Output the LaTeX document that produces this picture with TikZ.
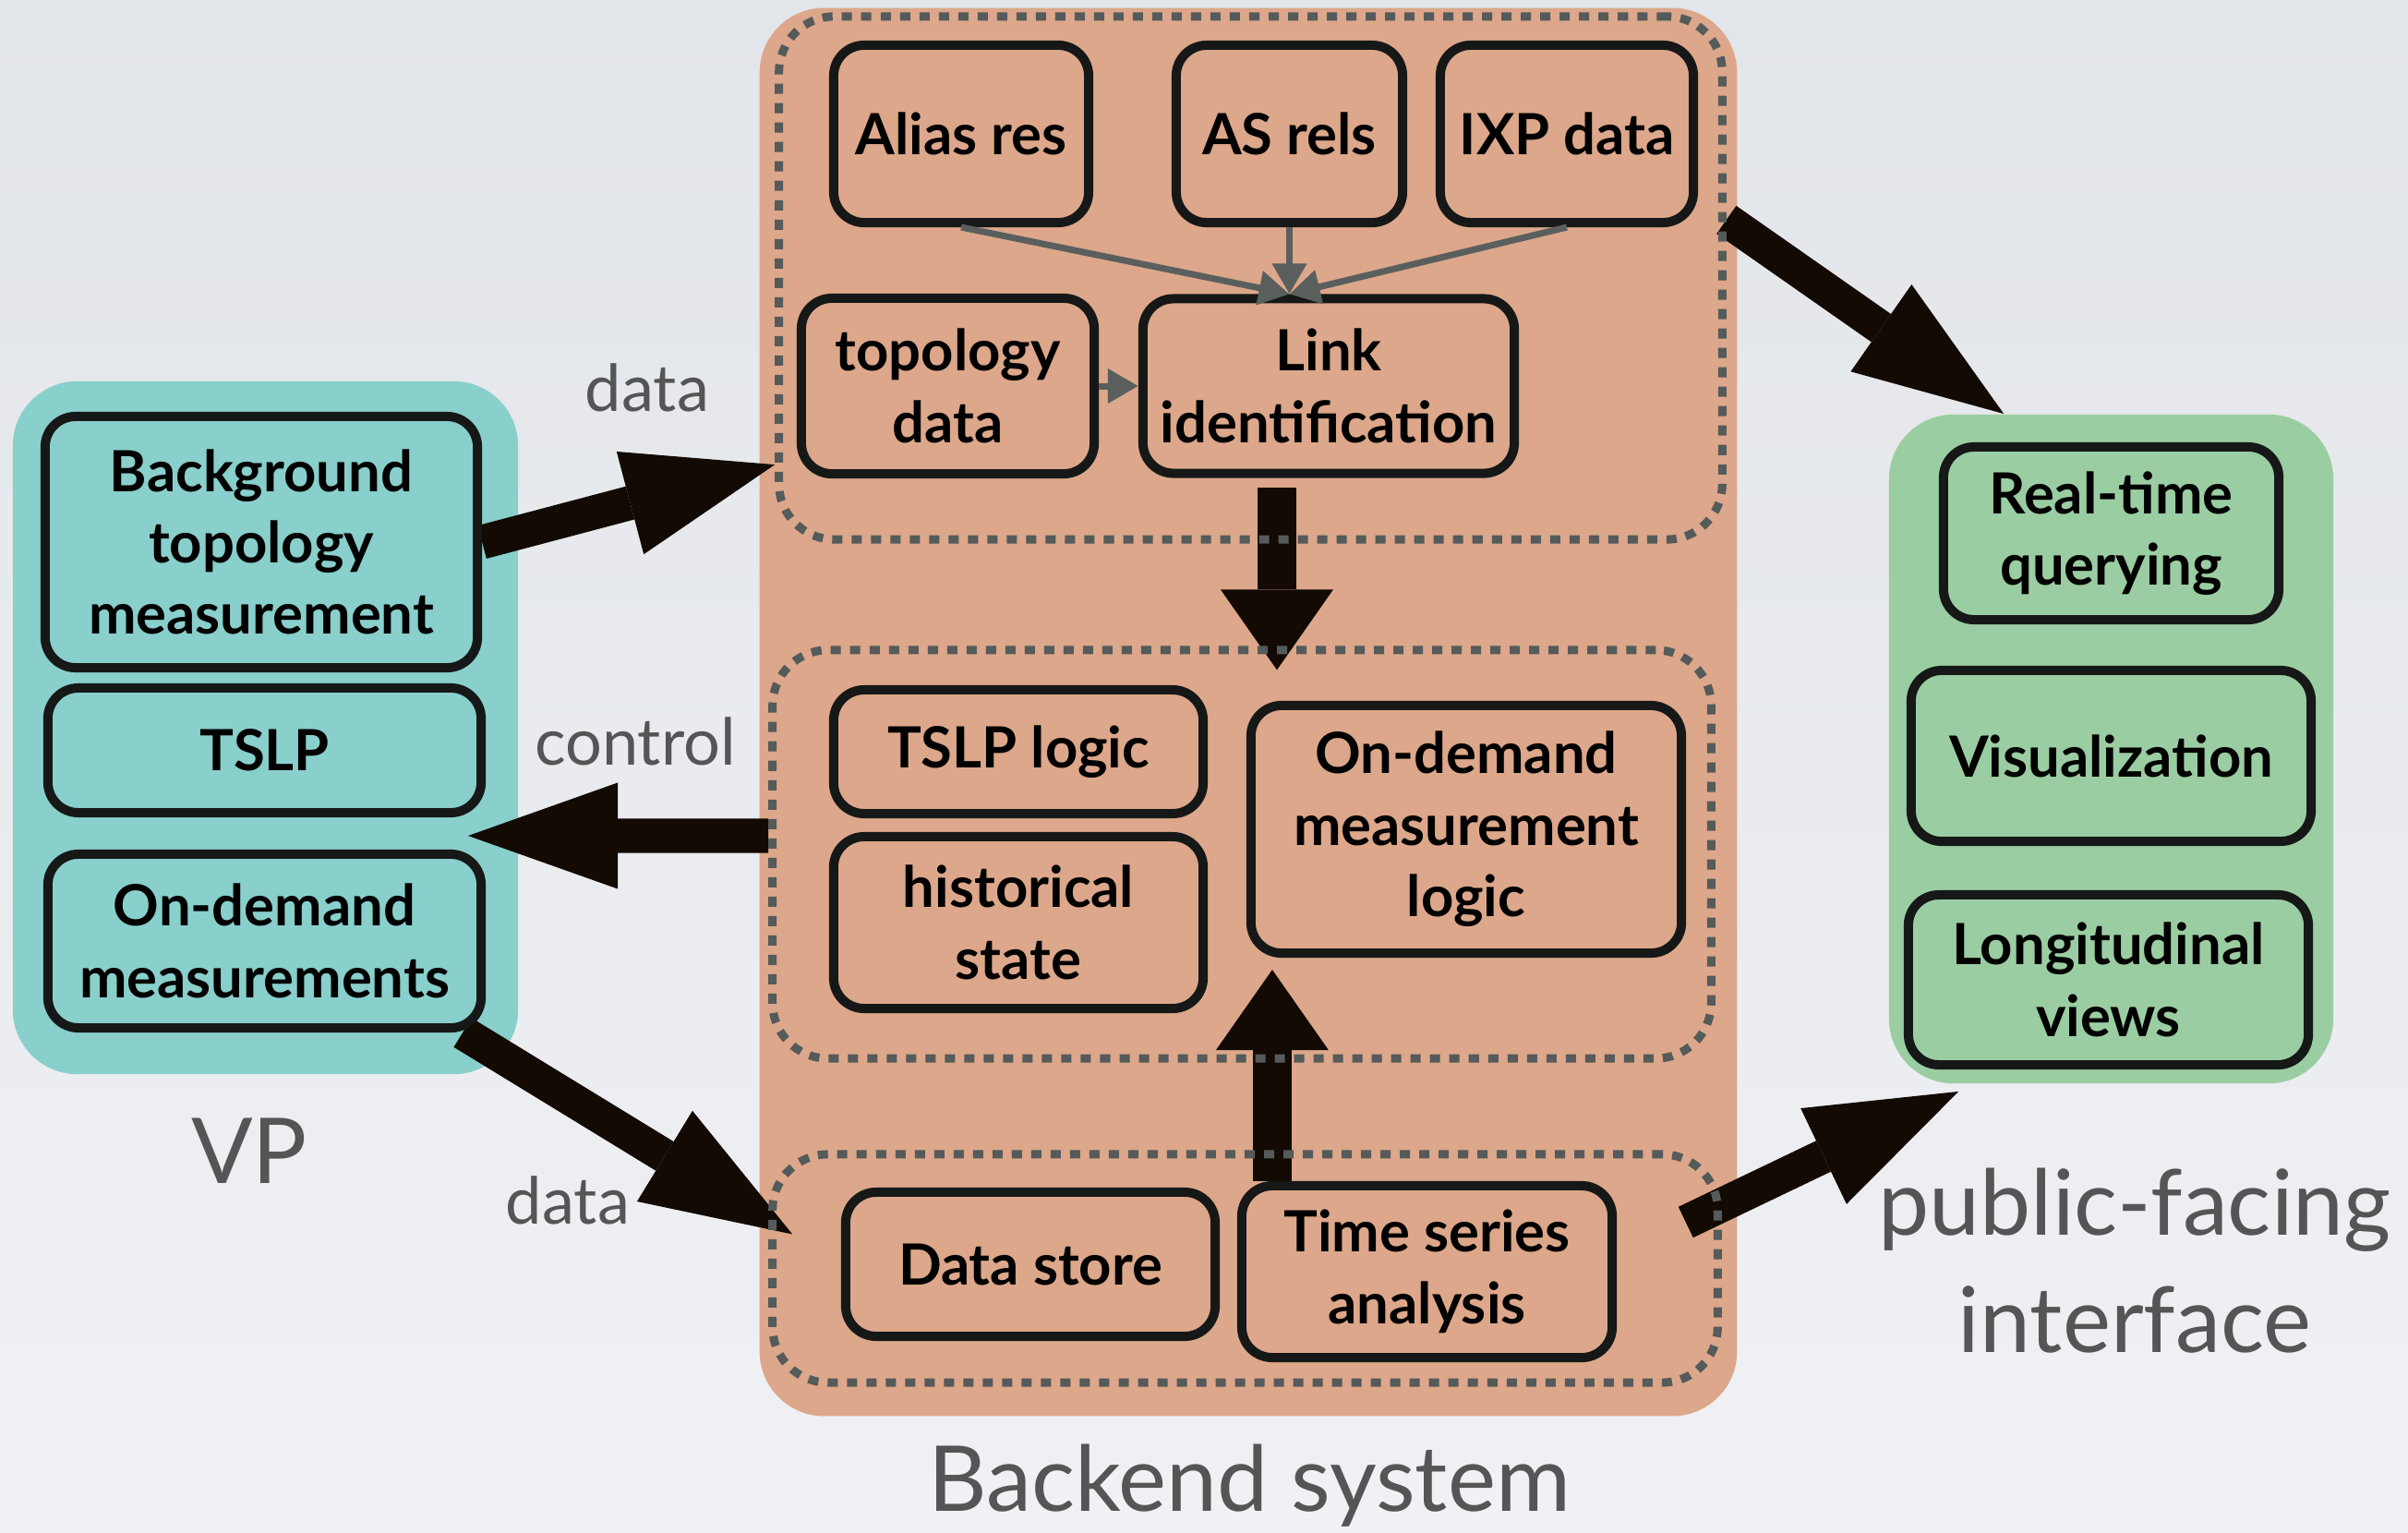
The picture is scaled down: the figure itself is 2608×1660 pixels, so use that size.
\documentclass[tikz,border=0pt]{standalone}
\usepackage{fontspec}
\setmainfont{Lato}
\usetikzlibrary{arrows.meta}

\definecolor{bgtop}{RGB}{226,229,233}
\definecolor{bgbot}{RGB}{240,241,244}
\definecolor{backend}{RGB}{220,167,138}
\definecolor{vpteal}{RGB}{137,207,204}
\definecolor{pubgreen}{RGB}{155,205,162}
\definecolor{boxline}{RGB}{22,24,24}
\definecolor{dotgray}{RGB}{85,90,90}
\definecolor{feedgray}{RGB}{90,95,94}
\definecolor{arrblack}{RGB}{18,10,3}
\definecolor{lblgray}{RGB}{85,85,85}

\pgfdeclarelayer{back}
\pgfdeclarelayer{mid}
\pgfsetlayers{back,mid,main}

\begin{document}
\begin{tikzpicture}[x=0.01cm, y=-0.01cm,
  panel/.style={rounded corners=0.7cm, inner sep=0pt},
  grp/.style={draw=dotgray, line width=0.09cm, dash pattern=on 0.11cm off 0.1cm, rounded corners=0.6cm, inner sep=0pt},
  box/.style={draw=boxline, line width=0.1cm, rounded corners=0.33cm, align=center, inner sep=0pt,
    font=\fontsize{17.5}{22}\bfseries\selectfont},
  feed/.style={draw=feedgray, line width=0.07cm, -{Triangle[length=0.33cm, width=0.36cm]}},
  fat/.style={draw=arrblack, line width=0.37cm, -{Triangle[length=1.62cm, width=1.15cm, line width=0pt]}},
  stub/.style={draw=arrblack, line width=0.42cm, -{Triangle[length=0.87cm, width=1.22cm, line width=0pt]}},
  lbl/.style={text=lblgray, anchor=base, font=\fontsize{20}{24}\selectfont},
  big/.style={text=lblgray, anchor=base, align=center, font=\fontsize{28}{36}\selectfont}]

\useasboundingbox (0,0) rectangle (2608,1660);

\begin{pgfonlayer}{back}
\fill[top color=bgtop, bottom color=bgbot] (0,0) rectangle (2608,1660);
\node[panel, fill=backend, minimum width=10.58cm, minimum height=15.24cm] (backsys) at (1352,771) {};
\node[panel, fill=vpteal, minimum width=5.47cm, minimum height=7.50cm] (vp) at (287.5,788) {};
\node[panel, fill=pubgreen, minimum width=4.81cm, minimum height=7.24cm] (pub) at (2286.5,811) {};
\end{pgfonlayer}

% backend groups
\node[grp, minimum width=10.21cm, minimum height=5.66cm] (topgrp) at (1354.5,301) {};
\node[grp, minimum width=10.16cm, minimum height=4.42cm] (midgrp) at (1345,925) {};
\node[grp, minimum width=10.23cm, minimum height=2.47cm] (botgrp) at (1348.5,1373.5) {};

\node[box, minimum width=2.76cm, minimum height=1.92cm] (alias) at (1041,145) {Alias res};
\node[box, minimum width=2.45cm, minimum height=1.92cm] (as) at (1396.5,145) {AS rels};
\node[box, minimum width=2.74cm, minimum height=1.92cm] (ixp) at (1697,145) {IXP data};
\node[box, minimum width=3.17cm, minimum height=1.90cm] (topo) at (1026.5,418) {topology\\data};
\node[box, minimum width=4.02cm, minimum height=1.89cm] (link) at (1439,418) {Link\\identification};

\node[box, minimum width=4.00cm, minimum height=1.34cm] (tslplogic) at (1103,814) {TSLP logic};
\node[box, minimum width=4.00cm, minimum height=1.86cm] (hist) at (1103,999) {historical\\state};
\node[box, minimum width=4.66cm, minimum height=2.68cm] (odl) at (1588,898) {On-demand\\measurement\\logic};

\node[box, minimum width=4.00cm, minimum height=1.56cm] (store) at (1116,1369) {Data store};
\node[box, minimum width=4.01cm, minimum height=1.86cm] (tsa) at (1545.5,1377) {Time series\\analysis};

% VP
\node[box, minimum width=4.68cm, minimum height=2.72cm] (btm) at (283,587) {Background\\topology\\measurement};
\node[box, minimum width=4.69cm, minimum height=1.35cm] (tslp) at (286.5,812.5) {TSLP};
\node[box, minimum width=4.69cm, minimum height=1.88cm] (odm) at (286.5,1019) {On-demand\\measurements};

% public-facing
\node[box, minimum width=3.63cm, minimum height=1.87cm] (rtq) at (2286.5,577.5) {Real-time\\querying};
\node[box, minimum width=4.33cm, minimum height=1.85cm] (vis) at (2286.5,818.5) {Visualization};
\node[box, minimum width=4.33cm, minimum height=1.84cm] (lon) at (2283.5,1061) {Longitudinal\\views};

\draw[feed] (alias.south) -- (as.south |- link.north);
\draw[feed] (as.south) -- (as.south |- link.north);
\draw[feed] (ixp.south) -- (as.south |- link.north);
\draw[feed] (topo.east) -- (link.west);

\coordinate (ctltip) at (507,905);
\begin{pgfonlayer}{mid}
\draw[fat] (btm.east) -- ([yshift=-2.02cm]topgrp.west);
\draw[fat] ([yshift=0.2cm]midgrp.west) -- (ctltip);
\draw[fat] ([xshift=-0.25cm]odm.south east) -- ([xshift=0.26cm,yshift=0.37cm]botgrp.west);
\draw[stub] ([xshift=-0.56cm,yshift=-0.1cm]link.south) -- ([xshift=-0.56cm,yshift=-0.26cm]link.south |- midgrp.north);
\draw[stub] ([xshift=0.38cm]tsa.north west) -- ([xshift=0.38cm,yshift=-0.13cm]tsa.north west |- odl.south);
\draw[fat] ([yshift=0.63cm]topgrp.east) -- ([xshift=1.25cm]pub.north west);
\draw[fat] ([xshift=-0.39cm,yshift=0.5cm]botgrp.east) -- ([xshift=0.76cm,yshift=-0.08cm]pub.south west);
\end{pgfonlayer}

\node[lbl] (datain) at (701,445) {data};
\node[lbl] (ctl) at (688,828) {control};
\node[lbl] (dataout) at (615,1325) {data};
\node[big] (vplbl) at (270,1281) {VP};
\node[big] (backlbl) at (1353,1636) {Backend system};
\node[big] (publbl) at (2312,1464) {public-facing\\interface};
\end{tikzpicture}
\end{document}
